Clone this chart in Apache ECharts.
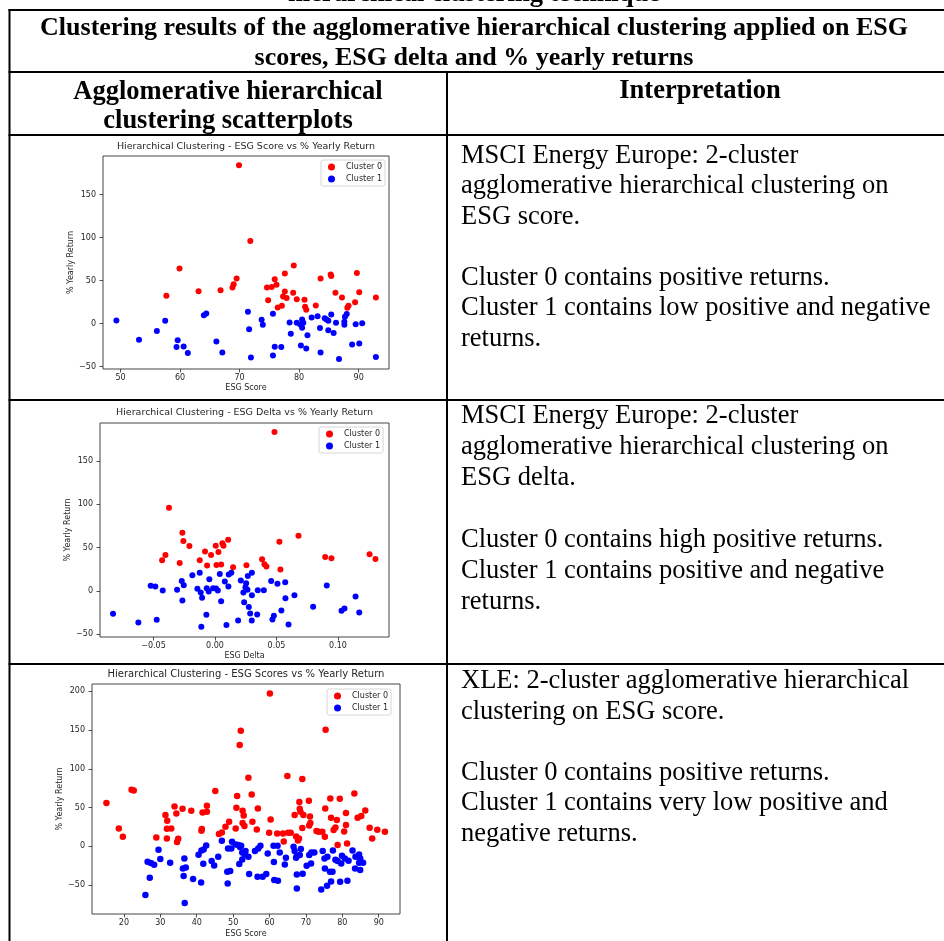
<!DOCTYPE html>
<html>
<head>
<meta charset="utf-8">
<script src="https://cdn.jsdelivr.net/npm/echarts@6.0.0/dist/echarts.min.js"></script>
<style>
  html, body { margin: 0; padding: 0; background: #fff; }
  #main { width: 944px; height: 941px; }
</style>
</head>
<body>
<div id="main"></div>
<script>
// cluster points: [x, % yearly return]
var p1Cluster0 = [[69.9,184.1],[57.7,32.2],[59.9,64],[63.1,37.6],[66.8,38.8],[68.8,41.9],[69,45.7],[69.5,52.3],[71.8,96.1],[79.1,67.4],[77.6,58.1],[75.9,51.6],[76.2,45],[74.6,41.9],[75.4,42.6],[77.6,37.2],[77.3,31.4],[77.9,29.8],[79,35.7],[74.8,27.1],[77.1,20.5],[76.4,18.6],[79.6,28.3],[80.9,27.5],[81,19.4],[81.2,15.9],[82.8,20.9],[83.6,52.3],[85.3,57],[85.4,55.4],[86.1,35.7],[87.2,30.2],[88.3,20.5],[88.1,18.2],[89.4,24.8],[89.7,58.9],[90.1,36.4],[92.9,30.2]];
var p1Cluster1 = [[49.3,3.5],[53.1,-19],[56.1,-8.9],[57.5,3.1],[59.6,-19.4],[59.4,-27.5],[60.6,-26.7],[61.3,-34.5],[64,9.7],[64.4,11.6],[66.1,-20.9],[67.1,-33.7],[71.4,13.6],[71.6,-6.6],[71.9,-39.5],[73.7,4.3],[73.9,-1.6],[75.6,11.2],[75.9,-27.1],[77,-27.5],[75.6,-37.2],[78.4,1.2],[78.6,-12],[79.6,0.8],[80.2,-1.2],[80.5,4.7],[80.7,0.8],[80.5,-5],[81.4,-13.6],[80.3,-25.6],[81.2,-29.1],[82.1,7],[83.1,8.5],[83.5,-5.4],[83.6,-33.7],[84.3,6.2],[84.6,4.7],[84.9,3.1],[85.4,10.5],[84.9,-7.8],[85.8,-11.2],[86.2,0.8],[86.7,-41.5],[87.7,7.8],[87.6,1.9],[87.6,-1.6],[88,10.9],[88.9,-24.4],[89.5,-0.8],[90.1,-23.3],[90.6,0.4],[92.9,-39.1]];

var p2Cluster0 = [[-0.0374,96.2],[-0.0265,67.3],[-0.0257,57.7],[-0.0208,51.9],[-0.0403,41.5],[-0.043,35.4],[-0.0287,32.3],[-0.0124,35.4],[-0.0081,45.4],[-0.0064,29.2],[-0.0032,41.5],[0.0006,52.3],[0.0028,45],[0.0012,30],[0.005,30.4],[0.006,55],[0.0069,52.3],[0.0107,59.2],[0.0147,27.3],[0.0256,29.6],[0.0484,183.8],[0.0679,63.8],[0.0524,56.9],[0.0383,36.5],[0.0402,30.8],[0.0418,28.1],[0.0532,24.6],[0.0896,39.2],[0.0947,37.7],[0.1257,42.3],[0.1305,36.9]];
var p2Cluster1 = [[-0.0829,-26.5],[-0.0623,-36.5],[-0.0474,-33.5],[-0.0523,5.8],[-0.0485,5],[-0.0425,0.4],[-0.0308,1.2],[-0.027,11.5],[-0.0254,6.5],[-0.0265,-11.2],[-0.0184,18.1],[-0.0124,20.8],[-0.0143,2.3],[-0.0116,-1.9],[-0.0105,-8.1],[-0.0111,-41.5],[-0.007,-27.7],[-0.0067,3.1],[-0.0051,-0.8],[-0.0046,13.5],[-0.0015,3.1],[0.0009,2.7],[0.0023,0.4],[0.0039,19.6],[0.005,-11.9],[0.008,10.8],[0.0109,5],[0.0112,18.8],[0.0133,20.8],[0.0093,-39.6],[0.0188,-34.2],[0.021,11.9],[0.0231,-1.9],[0.0237,-13.1],[0.0253,8.8],[0.0267,17.3],[0.03,20.8],[0.0248,4.2],[0.0264,1.2],[0.03,-5],[0.0348,0.8],[0.0397,0.8],[0.0457,11.5],[0.0508,8.1],[0.0571,10],[0.0573,-8.5],[0.0646,-5],[0.0275,-18.8],[0.0286,-26.2],[0.0343,-27.3],[0.0299,-34.2],[0.054,-22.7],[0.0479,-28.8],[0.0467,-33.1],[0.0598,-38.8],[0.0798,-18.5],[0.0909,6.2],[0.1029,-23.1],[0.1053,-20.4],[0.1143,-6.5],[0.1173,-25]];

var p3Cluster0 = [[15.2,55.8],[18.6,23.2],[19.7,12.5],[22.1,73],[22.7,72.2],[28.9,11.6],[31.4,40.4],[31.9,33.1],[31.8,22.8],[31.8,10.3],[33,23.2],[33.9,51.5],[34.4,42.5],[34.6,5.6],[34.9,9.9],[36.1,48.5],[38.5,46],[41.4,22.3],[41.6,43.8],[42.8,52.4],[42.8,44.7],[41.3,20.2],[45.1,71.3],[46.1,15.9],[46.9,18],[47.9,25.3],[48.9,31.8],[50.7,23.2],[51.1,64.9],[50.9,49.8],[52.1,149],[51.8,130.6],[52.6,46],[52.9,39.9],[52.6,30.1],[53.1,26.2],[54.2,88.5],
  [60.1,197.2],[75.4,150.3],[64.9,90.6],[69,86.8],[55.1,67],[55.3,31.8],[56.8,49],[56.5,21.9],[60.3,34.8],[59.9,17.6],[62.1,16.8],[63.7,16.8],[63.9,6.4],[65.1,17.6],[65.8,17.6],[66.9,40.4],[68.2,57.1],[68.3,48.5],[68.5,44.7],[69.3,40.4],[69,23.6],[67.3,12.9],[67.8,7.7],[68.1,10.3],[70.8,58.8],[71.1,38.7],[71.2,30.1],[70.9,27.1],[72.9,19.8],[73.5,18.9],[74.5,18.9],[75.2,12.5],[75.3,49],[76.7,61.9],[76.9,36.9],[77.6,21],[78.1,24.5],[78.5,33.9],[79.3,61.4],[78.7,1.7],[80.5,19.3],[81,27.5],[81,43],[81.3,3.9],[83.3,68.3],[84.2,36.9],[85.2,39.1],[86.3,46.4],[87.5,24.1],[88.2,10.3],[89.6,21.5],[91.7,18.9]];
var p3Cluster1 = [[25.9,-62.7],[27.1,-40.4],[26.5,-19.8],[27.4,-21.5],[28.3,-23.6],[29.5,-4.3],[30,-16.3],[32.7,-21],[36.6,-15.5],[36.2,-28.4],[37,-27.1],[36.4,-38.2],[36.7,-73],[39,-42.1],[40.5,-10.7],[41.3,-5.2],[41.9,-3.9],[42.6,1.3],[41.8,-22.3],[41.2,-46.4],[44.1,-18.9],[44.8,-24.5],[45.9,-13.3],[46.9,7.3],[48.6,-2.6],[49.5,-2.6],[48.4,-32.6],[49.2,-31.8],[48.5,-47.7],[49.7,6],[50.7,2.6],[51.4,1.7],[51.9,-0.9],[52.2,0.9],[52.5,-7.7],[51.7,-22.8],[52.5,-16.8],[53.2,-10.3],[54.2,-13.3],[54.4,-35.7],
  [53.4,-6],[56,-6],[56.9,-2.6],[57.5,0.9],[56.7,-39.1],[58.1,-39.1],[59.1,-35.7],[59.5,-9],[61.1,0.9],[62.2,0.9],[61.2,-20.2],[62.8,-7.7],[64.2,-23.2],[64.5,-14.6],[61.3,-43.4],[62.3,-44.2],[66.6,-0.4],[66.9,-6],[67.5,-12],[68.3,-11.2],[67.3,-14.6],[68.6,-3.4],[67.5,-36.1],[69.1,-35.2],[70.2,-24.9],[67.5,-54.1],[70.9,-11.2],[71.5,-7.7],[72.3,-7.7],[71.4,-21.9],[74.6,-6],[75.1,-15.5],[75.9,-13.3],[75.2,-28.4],[76.6,-32.6],[77.4,-5.2],[77.3,-32.6],[74.2,-55.4],[75.8,-50.7],[76.9,-45.1],[78.1,-17.2],[78.7,-18.9],[79.9,-12],[79.7,-21.9],[80.7,-15.5],[81.7,-18.5],[79.4,-45.5],[81.4,-44.2],[82.8,-5.2],[83.6,-13.3],[84.6,-10.3],[84.9,-15.5],[85.7,-21],[83.5,-28.4],[84.9,-30.5],[84.6,-21]];

// tick labels
var p1XTicks = [50, 60, 70, 80, 90];
var p2XTicks = [-0.05, 0, 0.05, 0.10];
var p3XTicks = [20, 30, 40, 50, 60, 70, 80, 90];
var p12YTicks = [-50, 0, 50, 100, 150];
var p3YTicks = [-50, 0, 50, 100, 150, 200];

var plotTitles = [
    'Hierarchical Clustering - ESG Score vs % Yearly Return',
    'Hierarchical Clustering - ESG Delta vs % Yearly Return',
    'Hierarchical Clustering - ESG Scores vs % Yearly Return'
];
var xNames = ['ESG Score', 'ESG Delta', 'ESG Score'];

var interp = [
    ['MSCI Energy Europe: 2-cluster', 'agglomerative hierarchical clustering on', 'ESG score.', '', 'Cluster 0 contains positive returns.', 'Cluster 1 contains low positive and negative', 'returns.'],
    ['MSCI Energy Europe: 2-cluster', 'agglomerative hierarchical clustering on', 'ESG delta.', '', 'Cluster 0 contains high positive returns.', 'Cluster 1 contains positive and negative', 'returns.'],
    ['XLE: 2-cluster agglomerative hierarchical', 'clustering on ESG score.', '', 'Cluster 0 contains positive returns.', 'Cluster 1 contains very low positive and', 'negative returns.']
];

var RED = '#ff0000', BLUE = '#0000ff', INK = '#262626';
var mplFont = '"DejaVu Sans", sans-serif';
var serif = '"Liberation Serif", "Times New Roman", serif';

function minus(v) { return String(v).replace('-', '\u2212'); }

var myChart = echarts.init(document.getElementById('main'), null, {renderer: 'canvas'});

// plot boxes (axes area of each matplotlib image)
var boxes = [
    {left: 103, top: 156, width: 286, height: 213},
    {left: 100, top: 423, width: 289, height: 214},
    {left: 92,  top: 684, width: 308, height: 230}
];

function xAxisFor(i, min, max, ticks, fmt, yGap) {
    return {
        type: 'value', gridIndex: i, min: min, max: max,
        name: xNames[i], nameLocation: 'middle', nameGap: yGap,
        nameTextStyle: {fontFamily: mplFont, fontSize: 8, color: INK},
        axisLine: {show: false, onZero: false},
        axisTick: {show: true, length: 3.5, lineStyle: {color: INK, width: 0.8}, customValues: ticks},
        axisLabel: {fontFamily: mplFont, fontSize: 8, color: INK, margin: 5, customValues: ticks, formatter: fmt},
        splitLine: {show: false}
    };
}
function yAxisFor(i, min, max, ticks, gap) {
    return {
        type: 'value', gridIndex: i, min: min, max: max,
        name: '% Yearly Return', nameLocation: 'middle', nameGap: gap, nameRotate: 90,
        nameTextStyle: {fontFamily: mplFont, fontSize: 8, color: INK},
        axisLine: {show: false, onZero: false},
        axisTick: {show: true, length: 3.5, lineStyle: {color: INK, width: 0.8}, customValues: ticks},
        axisLabel: {fontFamily: mplFont, fontSize: 8, color: INK, margin: 7, customValues: ticks, formatter: function (v) { return minus(v); }},
        splitLine: {show: false}
    };
}
function legendFor(left, top) {
    return {
        left: left, top: top, orient: 'vertical', selectedMode: false,
        data: ['Cluster 0', 'Cluster 1'], icon: 'circle',
        itemWidth: 7, itemHeight: 7, itemGap: 4,
        padding: [3, 3, 3, 7],
        borderColor: '#d6d6d6', borderWidth: 1, borderRadius: 2,
        textStyle: {fontFamily: mplFont, fontSize: 8, color: INK, lineHeight: 8, padding: [0, 0, 0, 6]}
    };
}
function scatter(name, i, data, color, size) {
    return {
        name: name, type: 'scatter', xAxisIndex: i, yAxisIndex: i,
        data: data, symbolSize: size, itemStyle: {color: color, opacity: 1},
        emphasis: {disabled: true}
    };
}

// table lines and texts
var graphics = [];
function hline(y, x1, x2, w) {
    graphics.push({type: 'line', shape: {x1: x1, y1: y, x2: x2, y2: y}, style: {stroke: '#000', lineWidth: w}, z: 10});
}
function vline(x, y1, y2, w) {
    graphics.push({type: 'line', shape: {x1: x, y1: y1, x2: x, y2: y2}, style: {stroke: '#000', lineWidth: w}, z: 10});
}
function txt(s, x, y, size, bold, align, font, color) {
    graphics.push({type: 'text', x: x, y: y, z: 11, style: {
        text: s, fontSize: size, fontWeight: bold ? 'bold' : 'normal', fontFamily: font || serif,
        fill: color || '#000', textAlign: align || 'left', textVerticalAlign: 'middle'}});
}

hline(10, 8.5, 944, 2);
hline(72, 8.5, 944, 2);
hline(135, 8.5, 944, 2);
hline(400, 8.5, 944, 2);
hline(664, 8.5, 944, 2);
vline(9.5, 9, 941, 2);
vline(447, 71, 941, 2);

txt('hierarchical clustering technique', 474, -6, 26.5, true, 'center');
txt('Clustering results of the agglomerative hierarchical clustering applied on ESG', 474, 28, 26, true, 'center');
txt('scores, ESG delta and % yearly returns', 474, 58, 26, true, 'center');
txt('Agglomerative hierarchical', 228, 92, 26.5, true, 'center');
txt('clustering scatterplots', 228, 121, 26.5, true, 'center');
txt('Interpretation', 700, 91, 26.5, true, 'center');

var rowStart = [156, 416, 681];
var rowStep = [30.5, 31, 30.6];
for (var r = 0; r < interp.length; r++) {
    for (var k = 0; k < interp[r].length; k++) {
        if (interp[r][k]) txt(interp[r][k], 461, rowStart[r] + k * rowStep[r], 26.5, false, 'left');
    }
}

// plot titles
var titleY = [147, 413, 674];
var titleSize = [9.5, 9.5, 10];
for (var p = 0; p < 3; p++) {
    txt(plotTitles[p], boxes[p].left + boxes[p].width / 2, titleY[p], titleSize[p], false, 'center', mplFont, INK);
}

var option = {
    animation: false,
    backgroundColor: '#fff',
    grid: boxes.map(function (b) {
        return {left: b.left, top: b.top, width: b.width, height: b.height, show: true,
                borderColor: '#444', borderWidth: 1, backgroundColor: 'transparent'};
    }),
    xAxis: [
        xAxisFor(0, 47.05, 95.1, p1XTicks, function (v) { return minus(v); }, 15),
        xAxisFor(1, -0.0935, 0.1415, p2XTicks, function (v) { return (v < 0 ? '\u2212' : '') + Math.abs(v).toFixed(2); }, 15),
        xAxisFor(2, 11.23, 95.84, p3XTicks, function (v) { return minus(v); }, 16)
    ],
    yAxis: [
        yAxisFor(0, -53, 195, p12YTicks, 24),
        yAxisFor(1, -53.4, 194.2, p12YTicks, 24),
        yAxisFor(2, -87.1, 209.3, p3YTicks, 27)
    ],
    legend: [legendFor(321, 160), legendFor(319, 427), legendFor(327, 689)],
    series: [
        scatter('Cluster 0', 0, p1Cluster0, RED, 6),
        scatter('Cluster 1', 0, p1Cluster1, BLUE, 6),
        scatter('Cluster 0', 1, p2Cluster0, RED, 6),
        scatter('Cluster 1', 1, p2Cluster1, BLUE, 6),
        scatter('Cluster 0', 2, p3Cluster0, RED, 6.5),
        scatter('Cluster 1', 2, p3Cluster1, BLUE, 6.5)
    ],
    graphic: graphics
};

myChart.setOption(option);
</script>
</body>
</html>
